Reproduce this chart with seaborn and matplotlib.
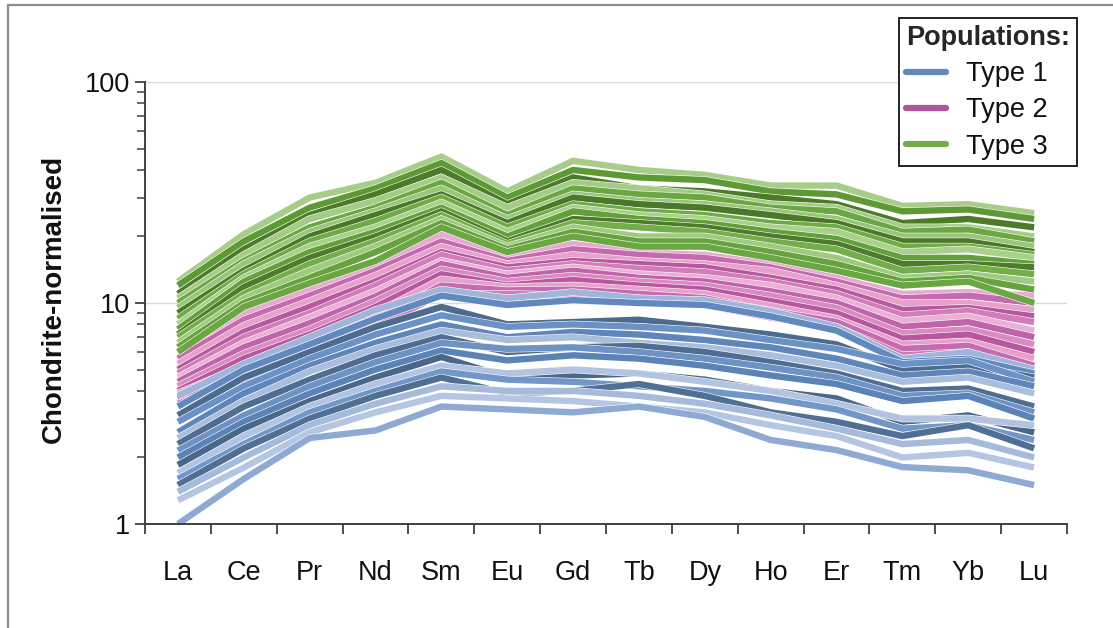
import matplotlib
matplotlib.use("Agg")
import matplotlib.pyplot as plt
import matplotlib.patheffects as pe
from matplotlib.lines import Line2D
from matplotlib.ticker import LogLocator, NullFormatter, FixedLocator
import numpy as np
import pandas as pd
import seaborn as sns

elements = ["La", "Ce", "Pr", "Nd", "Sm", "Eu", "Gd", "Tb", "Dy", "Ho", "Er", "Tm", "Yb", "Lu"]

# Type 1 (blue) samples, chondrite-normalised
type1 = {
    "b01": [3.8, 5.3, 7.0, 9.3, 11.5, 10.5, 11.2, 10.5, 10.3, 9.2, 7.8, 5.6, 6.0, 5.0],
    "b02": [3.4, 5.0, 6.5, 8.5, 10.8, 9.8, 10.3, 10.0, 9.8, 8.7, 7.5, 5.4, 5.6, 4.8],
    "b03": [3.1, 4.6, 6.0, 7.8, 9.6, 8.0, 8.2, 8.4, 7.8, 7.2, 6.5, 5.0, 5.2, 4.6],
    "b04": [2.9, 4.2, 5.6, 7.2, 8.8, 7.8, 8.0, 7.8, 7.5, 6.8, 6.2, 5.3, 5.5, 4.4],
    "b05": [2.6, 3.9, 5.2, 6.6, 8.0, 7.0, 7.4, 7.2, 6.8, 6.3, 5.6, 4.7, 4.9, 4.2],
    "b06": [2.45, 3.6, 4.9, 6.2, 7.5, 6.8, 7.0, 6.6, 6.3, 5.8, 5.2, 4.4, 4.6, 3.9],
    "b07": [2.3, 3.4, 4.5, 5.8, 7.0, 6.0, 6.3, 6.4, 6.0, 5.4, 4.8, 4.0, 4.1, 3.4],
    "b08": [2.15, 3.1, 4.2, 5.4, 6.6, 6.2, 6.3, 6.0, 5.6, 5.1, 4.6, 3.8, 3.9, 3.2],
    "b09": [2.0, 2.9, 3.9, 5.0, 6.1, 5.5, 5.8, 5.6, 5.2, 4.7, 4.3, 3.6, 3.8, 3.0],
    "b10": [1.85, 2.7, 3.6, 4.6, 5.7, 4.6, 4.7, 4.8, 4.5, 4.0, 3.7, 2.9, 3.1, 2.6],
    "b11": [1.7, 2.5, 3.4, 4.3, 5.2, 4.8, 5.0, 4.8, 4.4, 4.0, 3.5, 3.0, 3.0, 2.8],
    "b12": [1.6, 2.3, 3.2, 4.0, 4.9, 4.5, 4.4, 4.2, 4.0, 3.7, 3.3, 2.7, 2.8, 2.4],
    "b13": [1.5, 2.2, 3.0, 3.8, 4.6, 3.9, 4.0, 4.3, 3.8, 3.2, 2.9, 2.5, 2.8, 2.2],
    "b14": [1.4, 2.0, 2.8, 3.5, 4.2, 4.0, 4.0, 3.8, 3.5, 3.1, 2.7, 2.3, 2.4, 2.0],
    "b15": [1.28, 1.8, 2.6, 3.2, 3.8, 3.7, 3.6, 3.4, 3.2, 2.8, 2.5, 2.0, 2.1, 1.8],
    "b16": [1.0, 1.6, 2.45, 2.65, 3.4, 3.3, 3.2, 3.4, 3.05, 2.4, 2.16, 1.81, 1.75, 1.5],
}

# Type 2 (pink) samples
type2 = {
    "p01": [6.0, 9.0, 11.5, 15.0, 20.5, 16.5, 18.5, 17.0, 16.5, 15.0, 13.0, 11.0, 11.2, 10.8],
    "p02": [5.6, 8.4, 10.8, 14.0, 19.0, 15.5, 17.5, 16.5, 16.0, 14.5, 12.5, 10.5, 10.8, 10.0],
    "p03": [5.3, 7.9, 10.2, 13.3, 18.0, 15.0, 16.5, 15.5, 15.0, 14.0, 12.0, 10.0, 10.0, 9.3],
    "p04": [5.0, 7.4, 9.6, 12.5, 17.0, 14.5, 15.5, 15.0, 14.5, 13.0, 11.5, 9.3, 9.5, 8.7],
    "p05": [4.8, 7.0, 9.0, 12.0, 16.5, 14.0, 15.0, 14.3, 13.8, 12.5, 11.0, 8.8, 9.2, 8.2],
    "p06": [4.6, 6.6, 8.6, 11.3, 15.5, 13.5, 14.5, 13.5, 13.0, 12.0, 10.5, 8.3, 8.7, 7.5],
    "p07": [4.4, 6.3, 8.1, 10.7, 15.0, 13.0, 14.0, 13.0, 12.5, 11.3, 10.0, 7.8, 8.2, 7.0],
    "p08": [4.2, 5.9, 7.6, 10.2, 14.2, 12.5, 13.3, 12.5, 12.0, 10.8, 9.5, 7.3, 7.6, 6.5],
    "p09": [4.0, 5.6, 7.2, 9.6, 13.5, 12.0, 12.7, 12.0, 11.5, 10.2, 9.0, 6.9, 7.2, 6.0],
    "p10": [3.9, 5.2, 6.7, 9.0, 12.8, 11.8, 12.0, 11.5, 11.0, 9.7, 8.5, 6.5, 6.7, 5.6],
    "p11": [3.7, 4.9, 6.2, 8.4, 12.0, 11.4, 11.5, 11.0, 10.5, 9.2, 8.2, 6.2, 6.4, 5.2],
    "p12": [3.5, 4.5, 5.7, 7.8, 11.0, 11.0, 10.8, 10.5, 9.8, 8.6, 7.8, 5.8, 6.0, 4.7],
}

# Type 3 (green) samples
type3 = {
    "g01": [12.5, 20.5, 30.0, 35.0, 46.0, 32.0, 44.0, 40.0, 38.0, 34.0, 34.0, 27.5, 28.0, 25.5],
    "g02": [12.0, 19.0, 27.0, 33.0, 43.0, 30.0, 40.0, 37.0, 36.0, 32.0, 31.0, 26.0, 26.5, 24.0],
    "g03": [11.0, 17.5, 25.0, 31.0, 40.0, 28.0, 37.0, 33.0, 32.0, 30.0, 28.0, 23.0, 24.0, 22.0],
    "g04": [10.5, 16.5, 24.0, 29.0, 37.0, 27.0, 35.0, 33.0, 31.0, 28.0, 27.0, 22.0, 22.0, 20.0],
    "g05": [10.0, 15.5, 22.0, 27.0, 35.0, 25.0, 33.0, 31.0, 30.0, 27.0, 26.0, 21.0, 21.5, 19.0],
    "g06": [9.5, 15.0, 21.0, 26.0, 33.0, 24.0, 31.0, 29.0, 28.0, 26.0, 24.0, 20.0, 20.0, 18.0],
    "g07": [9.0, 14.0, 20.0, 25.0, 31.0, 23.0, 30.0, 28.0, 27.0, 25.0, 23.0, 19.0, 19.0, 17.0],
    "g08": [8.5, 13.5, 19.0, 23.5, 30.0, 22.0, 28.0, 26.0, 25.0, 23.0, 22.0, 18.0, 18.0, 16.5],
    "g09": [8.0, 13.0, 18.0, 22.0, 28.5, 21.0, 27.0, 25.0, 24.0, 22.0, 21.0, 17.0, 17.5, 16.0],
    "g10": [7.6, 12.5, 17.0, 21.0, 27.0, 20.0, 26.0, 24.0, 23.0, 21.0, 19.5, 16.0, 16.0, 15.0],
    "g11": [7.2, 11.8, 16.0, 20.0, 26.0, 19.0, 24.0, 23.0, 22.0, 20.0, 18.5, 15.0, 15.0, 14.5],
    "g12": [7.0, 11.0, 15.0, 19.0, 25.0, 18.5, 23.0, 22.0, 21.0, 19.0, 17.5, 14.0, 14.5, 13.5],
    "g13": [6.6, 10.5, 14.0, 18.0, 24.0, 18.0, 22.0, 20.0, 20.0, 18.0, 16.0, 13.0, 13.5, 12.5],
    "g14": [6.3, 10.0, 13.0, 17.0, 23.0, 17.5, 21.0, 19.0, 19.0, 17.0, 15.0, 12.5, 13.0, 11.5],
    "g15": [6.0, 9.6, 12.3, 15.5, 22.0, 17.0, 20.0, 18.0, 18.0, 16.0, 14.0, 12.0, 12.5, 10.0],
}

blue_shades = ["#9fb6da", "#6189bf", "#4d6b8e", "#6a92c6", "#5f86ba", "#a9bddd",
               "#4f6d92", "#6d93c5", "#5b83b8", "#4a6789", "#b2c4e2", "#7196c8",
               "#506f94", "#a6badb", "#b5c6e2", "#8eaad3"]
pink_shades = ["#e9a9d2", "#c46aae", "#e8a0cc", "#b65a9f", "#d27cba", "#eab0d5",
               "#c064a9", "#d98cc2", "#b8579e", "#e6a2cd", "#c46caf", "#d07ab8"]
green_shades = ["#a6ce88", "#5d9a36", "#4b7a29", "#a4cc86", "#6aa742", "#98c67a",
                "#4a7828", "#6eab46", "#a9d08c", "#61a03a", "#4c7b2a", "#73ae4b",
                "#9fca80", "#66a33e", "#6aa742"]

rows = []
palette = {}
order = []
for group, shades in ((type2, pink_shades), (type1, blue_shades), (type3, green_shades)):
    for (name, vals), col in zip(group.items(), shades):
        palette[name] = col
        order.append(name)
        for el, v in zip(elements, vals):
            rows.append({"sample": name, "element": el, "value": v})
df = pd.DataFrame(rows)

sns.set_style("ticks")
plt.rcParams["font.family"] = ["Liberation Sans", "DejaVu Sans"]

fig = plt.figure(figsize=(11.13, 6.28), dpi=100)
ax = fig.add_axes([0.1303, 0.1656, 0.8284, 0.7038])

sns.lineplot(data=df, x="element", y="value", hue="sample", hue_order=order,
             palette=palette, estimator=None, sort=False, legend=False,
             linewidth=4.6, ax=ax)
for ln in ax.lines:
    ln.set_solid_capstyle("butt")
    ln.set_solid_joinstyle("round")
    ln.set_path_effects([pe.Stroke(linewidth=5.4, foreground="white"), pe.Normal()])

ax.set_yscale("log")
ax.set_ylim(1, 100)
ax.set_xlim(-0.5, 13.5)
ax.set_yticks([1, 10, 100])
ax.set_yticklabels(["1", "10", "100"])
ax.yaxis.set_minor_locator(LogLocator(base=10, subs=np.arange(2, 10)))
ax.yaxis.set_minor_formatter(NullFormatter())
for yv in (10, 100):
    ax.axhline(yv, color="#d9d9d9", lw=1.0, zorder=0)

ax.xaxis.set_minor_locator(FixedLocator(np.arange(-0.5, 14, 1)))
ax.tick_params(axis="x", which="major", length=0, pad=26, labelsize=19.5, colors="#111111")
ax.tick_params(axis="x", which="minor", length=7, width=1.3, direction="out", color="#404040")
ax.tick_params(axis="y", which="major", length=7, width=1.3, pad=4, labelsize=19.5, colors="#111111")
ax.tick_params(axis="y", which="minor", length=6, width=1.1, color="#404040")
ax.tick_params(axis="y", which="both", color="#404040")

sns.despine(ax=ax)
for side in ("left", "bottom"):
    ax.spines[side].set_color("#404040")
    ax.spines[side].set_linewidth(1.4)

ax.set_xlabel("")
ax.set_ylabel("Chondrite-normalised", fontsize=20, fontweight="bold", color="#111111")
ax.yaxis.set_label_coords(-0.085, 0.51)

handles = [Line2D([], [], color=c, lw=4.5) for c in ("#6088ba", "#ad579b", "#72ac4a")]
leg = fig.legend(handles, ["Type 1", "Type 2", "Type 3"], title="Populations:",
                 loc="upper right", bbox_to_anchor=(1077 / 1113, 1 - 18 / 628),
                 fontsize=19.5, title_fontproperties={"weight": "bold", "size": 19.5},
                 frameon=True, fancybox=False, framealpha=1, edgecolor="#111111",
                 handlelength=1.45, handletextpad=0.75, labelspacing=0.38,
                 borderpad=0.25, borderaxespad=0, alignment="left")
leg.get_frame().set_linewidth(1.3)
for t in leg.get_texts():
    t.set_color("#111111")

# outer frame of the original figure
fig.add_artist(Line2D([8 / 1113, 8 / 1113], [0, 1 - 5 / 628], color="#8c8c8c", lw=1.6))
fig.add_artist(Line2D([8 / 1113, 1], [1 - 5 / 628, 1 - 5 / 628], color="#8c8c8c", lw=1.6))

fig.savefig("out.png", dpi=100)
